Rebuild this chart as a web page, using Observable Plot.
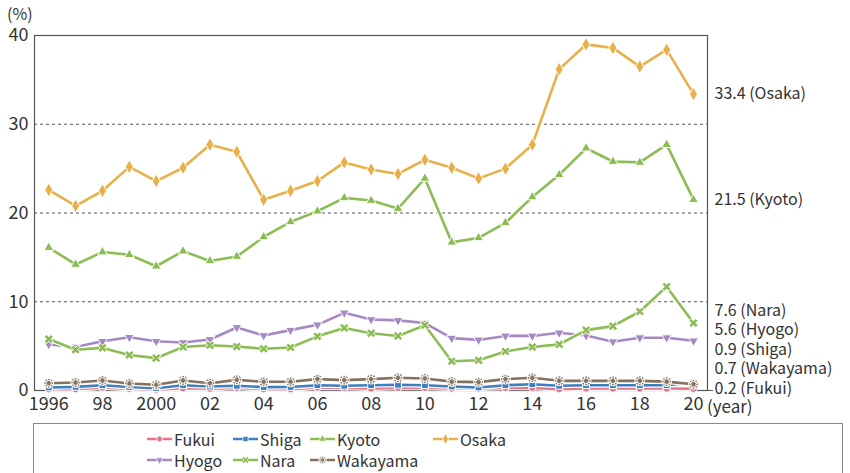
<!DOCTYPE html>
<html>
<head>
<meta charset="utf-8">
<script src="https://cdn.jsdelivr.net/npm/d3@7"></script>
<script src="https://cdn.jsdelivr.net/npm/@observablehq/plot@0.6"></script>
<style>
  body { margin: 0; width: 850px; height: 473px; overflow: hidden; background: #fff; font-family: 'Noto Sans CJK JP', 'Noto Sans', sans-serif; color: #333; }
  #chart { position: absolute; left: 0; top: 0; }
  #legend { position: absolute; left: 33px; top: 423px; width: 810px; height: 80px; border: 1px solid #888; box-sizing: border-box;
            display: grid; grid-template-columns: 86px 77px 123px auto; grid-auto-rows: 21px; padding: 4px 0 0 113px; }
  .item { display: flex; align-items: center; font-size: 16px; color: #333; white-space: nowrap; }
  .item svg { margin-right: 1px; }
</style>
</head>
<body>
<div id="chart"></div>
<div id="legend"></div>
<script>
// ---- data ----
const years = d3.range(1996, 2021);
const seriesNames = ["Fukui", "Shiga", "Kyoto", "Osaka", "Hyogo", "Nara", "Wakayama"];
const fukui    = [0.15,0.15,0.34,0.2,0.1,0.26,0.2,0.3,0.15,0.15,0.34,0.3,0.22,0.3,0.3,0.22,0.22,0.3,0.3,0.15,0.22,0.22,0.22,0.22,0.2];
const shiga    = [0.34,0.41,0.6,0.4,0.26,0.6,0.45,0.53,0.38,0.4,0.6,0.53,0.6,0.64,0.6,0.45,0.34,0.6,0.71,0.53,0.6,0.6,0.6,0.6,0.9];
const kyoto    = [16.1,14.2,15.6,15.3,14.0,15.7,14.6,15.1,17.3,19.0,20.2,21.7,21.4,20.5,23.9,16.7,17.2,18.9,21.8,24.3,27.3,25.8,25.7,27.7,21.5];
const osaka    = [22.6,20.8,22.5,25.2,23.6,25.1,27.7,26.9,21.5,22.5,23.6,25.7,24.9,24.4,26.0,25.1,23.9,25.0,27.7,36.2,39.0,38.6,36.5,38.4,33.4];
const hyogo    = [5.2,4.9,5.55,6.0,5.55,5.4,5.75,7.1,6.2,6.8,7.4,8.75,8.0,7.9,7.6,5.9,5.7,6.15,6.15,6.5,6.2,5.5,5.95,5.95,5.6];
const nara     = [5.8,4.6,4.8,4.0,3.65,4.9,5.1,4.95,4.7,4.85,6.1,7.05,6.45,6.15,7.35,3.3,3.4,4.4,4.9,5.2,6.8,7.25,8.9,11.7,7.6];
const wakayama = [0.82,0.9,1.13,0.79,0.64,1.13,0.82,1.2,0.98,0.98,1.28,1.17,1.28,1.43,1.35,1.0,0.94,1.28,1.43,1.09,1.09,1.09,1.09,1.0,0.7];
const xTicks = d3.range(1996, 2021, 2);
const yTicks = [0, 10, 20, 30, 40];

// ---- styles ----
const colors = {Fukui:"#e8728a", Shiga:"#3d7fc1", Kyoto:"#8cbd55", Osaka:"#e9b04a", Hyogo:"#a688c4", Nara:"#8cbd55", Wakayama:"#85715e"};
const triDown = { draw(ctx, size) {
  const y = -Math.sqrt(size / (Math.sqrt(3) * 3));
  ctx.moveTo(0, -2 * y); ctx.lineTo(-Math.sqrt(3) * y, y); ctx.lineTo(Math.sqrt(3) * y, y); ctx.closePath();
}};
function crossPts(size) {
  const x = Math.sqrt(size / 5) / 2;
  return [[-3*x,-x],[-x,-x],[-x,-3*x],[x,-3*x],[x,-x],[3*x,-x],[3*x,x],[x,x],[x,3*x],[-x,3*x],[-x,x],[-3*x,x]];
}
function poly(ctx, pts) { ctx.moveTo(pts[0][0], pts[0][1]); for (const p of pts.slice(1)) ctx.lineTo(p[0], p[1]); ctx.closePath(); }
const rot = p => [(p[0] - p[1]) / Math.SQRT2, (p[0] + p[1]) / Math.SQRT2];
const xMark = { draw(ctx, size) { poly(ctx, crossPts(size).map(rot)); } };
const starMark = { draw(ctx, size) { const s = size * 0.8; poly(ctx, crossPts(s)); poly(ctx, crossPts(s).map(rot)); } };
const symbols = {Fukui:d3.symbolCircle, Shiga:d3.symbolSquare, Kyoto:d3.symbolTriangle, Osaka:d3.symbolDiamond, Hyogo:triDown, Nara:xMark, Wakayama:starMark};
const symSize = {Fukui:44, Shiga:46, Kyoto:42, Osaka:56, Hyogo:42, Nara:52, Wakayama:64};

const values = {Fukui:fukui, Shiga:shiga, Kyoto:kyoto, Osaka:osaka, Hyogo:hyogo, Nara:nara, Wakayama:wakayama};
const xDomain = [1995.47, 2020.52];
const height = 420, marginTop = 35, marginBottom = 30;
const unitsPerPx = 40 / (height - marginTop - marginBottom);

// right-side labels, dodged bottom-up
const ends = seriesNames.map(n => ({name: n, v: values[n][values[n].length - 1]})).sort((a, b) => a.v - b.v);
const gap = 19.5 * unitsPerPx;
let prev = -Infinity;
for (const e of ends) { e.pos = Math.max(e.v, prev + gap); prev = e.pos; e.text = `${e.v.toFixed(1)} (${e.name})`; }

const marks = [
  Plot.ruleY([10, 20, 30], {stroke: "#555", strokeWidth: 1, strokeDasharray: "3,3"}),
  Plot.ruleX(d3.range(1996.5, 2020, 1), {y1: 0, y2: 3 * unitsPerPx, stroke: "#555", strokeWidth: 1}),
  Plot.frame({stroke: "#555", strokeWidth: 1.2}),
  Plot.axisY({anchor: "left", ticks: yTicks, tickSize: 0, tickPadding: 6, fontSize: 18, label: null}),
  Plot.axisY({anchor: "right", ticks: [0], tickSize: 5, tickFormat: () => "", label: null, stroke: "#555"}),
  Plot.axisX({ticks: xTicks, tickSize: 0, tickPadding: 7, fontSize: 18, label: null,
    tickFormat: d => (d === 1996 || d === 2000) ? String(d) : String(d % 100).padStart(2, "0")})
];
for (const n of seriesNames) {
  const data = years.map((y, i) => ({year: y, value: values[n][i]}));
  marks.push(Plot.line(data, {x: "year", y: "value", stroke: "white", strokeWidth: 5, strokeLinejoin: "round"}));
  marks.push(Plot.line(data, {x: "year", y: "value", stroke: colors[n], strokeWidth: 2.6, strokeLinejoin: "round"}));
  marks.push(Plot.dot(data, {x: "year", y: "value", symbol: () => symbols[n], r: Math.sqrt(symSize[n] / Math.PI), fill: colors[n], stroke: "white", strokeWidth: 1}));
}
marks.push(Plot.text(ends, {x: () => xDomain[1], y: "pos", text: "text", textAnchor: "start", dx: 7, dy: 0, fontSize: 16, fill: "#333"}));

const chart = Plot.plot({
  width: 850, height, marginTop, marginBottom, marginLeft: 34, marginRight: 143,
  x: {domain: xDomain},
  y: {domain: [0, 40]},
  symbol: {type: "identity"},
  style: {fontFamily: "'Noto Sans CJK JP', 'Noto Sans', sans-serif", color: "#333", background: "white", overflow: "visible"},
  marks
});
document.getElementById("chart").appendChild(chart);

const svg = d3.select(chart);
const xs = chart.scale("x");
svg.append("text").attr("x", 7).attr("y", 20).attr("font-size", 16).attr("fill", "#333")
  .attr("text-anchor", "start").style("text-anchor", "start").text("(%)");
svg.append("text").attr("x", xs.apply(2020) + 14).attr("y", 413).attr("font-size", 17).attr("fill", "#333")
  .attr("text-anchor", "start").style("text-anchor", "start").text("(year)");

// legend
const legend = d3.select("#legend");
for (const n of seriesNames) {
  const it = legend.append("div").attr("class", "item");
  const s = it.append("svg").attr("width", 26).attr("height", 14);
  s.append("line").attr("x1", 0).attr("x2", 25).attr("y1", 7).attr("y2", 7).attr("stroke", colors[n]).attr("stroke-width", 2.5);
  s.append("path").attr("transform", "translate(12.5,7)").attr("d", d3.symbol().type(symbols[n]).size(symSize[n] * 0.6)())
    .attr("fill", colors[n]).attr("stroke", "white").attr("stroke-width", 0.8);
  it.append("span").text(n);
}
</script>
</body>
</html>
